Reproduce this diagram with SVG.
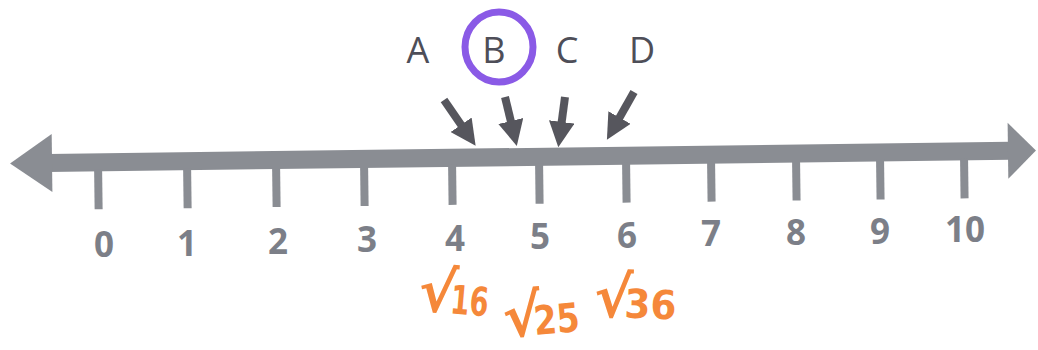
<svg xmlns="http://www.w3.org/2000/svg" width="1038" height="350" viewBox="0 0 1038 350">
<style>
.axis{fill:#8a8d93}
.tick{fill:#8a8d93}
.num{font-family:"Open Sans","DejaVu Sans",sans-serif;font-size:35px;font-weight:700;fill:#7c7f88;text-anchor:middle}
.let{font-family:"Open Sans","DejaVu Sans",sans-serif;font-size:36px;font-weight:400;fill:#4e4e58;text-anchor:middle}
.ptr{stroke:#56565d;stroke-width:8;fill:none;marker-end:url(#ah)}
.root{font-family:"DejaVu Sans","Liberation Sans",sans-serif;font-weight:bold;fill:#f5883a}
.rad{font-size:58px}
.dig{font-size:40px}
</style>
<defs>
<marker id="ah" viewBox="0 0 10 10" refX="2" refY="5" markerWidth="3.2" markerHeight="3.2" markerUnits="strokeWidth" orient="auto">
<path d="M0,0 L10,5 L0,10 Z" fill="#56565d"/>
</marker>
</defs>
<rect width="1038" height="350" fill="#ffffff"/>
<g id="number-line" transform="rotate(-0.72 520 157)">
<g id="axis">
<rect class="axis" x="48" y="148" width="962" height="18"/>
<polygon class="axis" points="10,157 52,128 52,186"/>
<polygon class="axis" points="1036,157 1008,129 1008,185"/>
</g>
<g id="ticks">
<rect class="tick" x="94" y="164" width="8" height="40"/>
<rect class="tick" x="183" y="164" width="8" height="40"/>
<rect class="tick" x="272" y="164" width="8" height="40"/>
<rect class="tick" x="360" y="164" width="8" height="40"/>
<rect class="tick" x="448" y="164" width="8" height="40"/>
<rect class="tick" x="535" y="164" width="8" height="40"/>
<rect class="tick" x="622" y="164" width="8" height="40"/>
<rect class="tick" x="707" y="164" width="8" height="40"/>
<rect class="tick" x="792" y="164" width="8" height="40"/>
<rect class="tick" x="876" y="164" width="8" height="40"/>
<rect class="tick" x="960" y="164" width="8" height="40"/>
</g>
</g>
<g id="labels">
<text class="num" x="104" y="257">0</text>
<text class="num" x="187" y="255.6">1</text>
<text class="num" x="278" y="254">2</text>
<text class="num" x="367" y="252.4">3</text>
<text class="num" x="455" y="250.9">4</text>
<text class="num" x="540" y="249.4">5</text>
<text class="num" x="627" y="247.9">6</text>
<text class="num" x="711" y="246.4">7</text>
<text class="num" x="796" y="245">8</text>
<text class="num" x="880" y="243.5">9</text>
<text class="num" x="965" y="242">10</text>
</g>
<g id="node-A"><text class="let" x="418" y="63">A</text></g>
<g id="node-B"><text class="let" x="494" y="63">B</text>
<ellipse cx="499" cy="47" rx="34" ry="35" fill="none" stroke="#8a5ae6" stroke-width="7"/></g>
<g id="node-C"><text class="let" x="567" y="63">C</text></g>
<g id="node-D"><text class="let" x="642" y="63">D</text></g>
<g id="connectors">
<line class="ptr" x1="444" y1="100" x2="464" y2="129"/>
<line class="ptr" x1="505" y1="97" x2="512" y2="126"/>
<line class="ptr" x1="565" y1="97" x2="561" y2="127"/>
<line class="ptr" x1="634" y1="92" x2="617" y2="122"/>
</g>
<g id="roots">
<text class="root" x="418" y="314" transform="rotate(5 460 300)"><tspan class="rad">√</tspan><tspan class="dig" dx="-6" textLength="38" lengthAdjust="spacingAndGlyphs">16</tspan></text>
<text class="root" x="503" y="334" transform="rotate(-5 546 320)"><tspan class="rad">√</tspan><tspan class="dig" dx="-8" textLength="46" lengthAdjust="spacingAndGlyphs">25</tspan></text>
<text class="root" x="594" y="318" transform="rotate(2 638 300)"><tspan class="rad">√</tspan><tspan class="dig" dx="-8" textLength="52" lengthAdjust="spacingAndGlyphs">36</tspan></text>
</g>
</svg>
